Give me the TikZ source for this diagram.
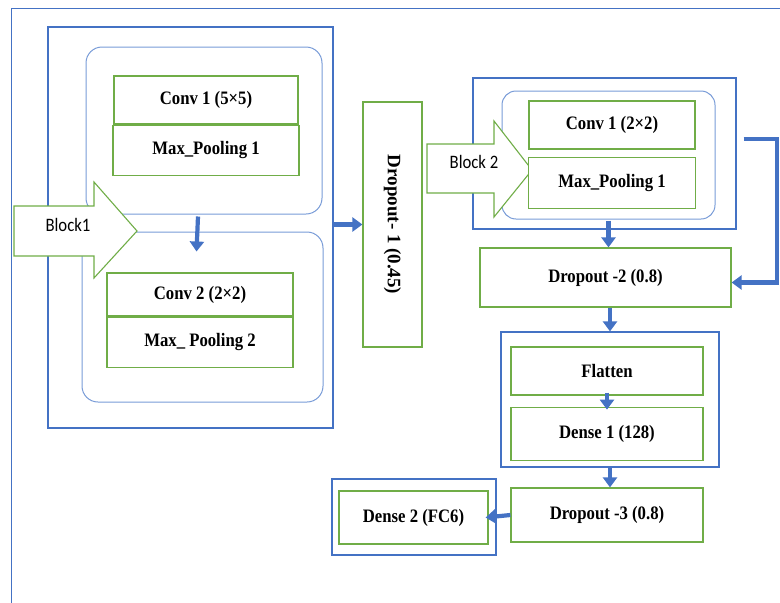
\documentclass[tikz,border=0pt]{standalone}
\usepackage{fontspec}
\setmainfont{Liberation Serif}
\newfontfamily\cellfont{Liberation Serif}[FakeStretch=0.88]
\newfontfamily\blockfont{Carlito}[FakeStretch=0.88]
\usepackage{tikz}
\usetikzlibrary{positioning,arrows.meta}
\definecolor{frameblue}{RGB}{68,114,196}
\definecolor{groupblue}{RGB}{120,155,215}
\definecolor{cellgreen}{RGB}{112,173,71}
\tikzset{
  frame/.style={rectangle,draw=frameblue,line width=1.2pt,inner sep=0pt},
  group/.style={rectangle,rounded corners=16pt,draw=groupblue,line width=1pt,inner sep=0pt},
  cell/.style={rectangle,draw=cellgreen,line width=1.2pt,fill=white,inner sep=0pt,align=center,
    font=\cellfont\bfseries\fontsize{19}{22}\selectfont},
  blockarrow/.style={draw=cellgreen,line width=1.1pt,fill=white,line join=miter},
  blocklabel/.style={inner sep=0pt,font=\blockfont\fontsize{19}{22}\selectfont},
  flowarrow/.style={-{Triangle[length=10pt,width=14pt]},draw=frameblue,line width=4.2pt}
}

\begin{document}
\begin{tikzpicture}[x=1pt,y=-1pt]
  \useasboundingbox (0,0) rectangle (780,603);
  \node[frame,anchor=north west,minimum width=820pt,minimum height=640pt] (outer) at (11,8) {};
  % block 1
  \node[frame,minimum width=285pt,minimum height=401pt] (b1) at (190.5,227.5) {};
  \node[group,minimum width=236pt,minimum height=167pt] (g1a) at (204,130.5) {};
  \node[group,minimum width=241pt,minimum height=170pt] (g1b) at (202.5,317) {};
  \draw[blockarrow] (14,206) -- (94,206) -- (94,182) -- (137,231) -- (94,278) -- (94,256) -- (14,256) -- cycle;
  \node[blocklabel] (blk1) at (68,225) {Block1};
  \node[cell,minimum width=184pt,minimum height=48pt] (c1) at (206,100) {Conv 1 (5×5)};
  \node[cell,minimum width=186pt,minimum height=50pt,below=0pt of c1] (mp1) {Max\_Pooling 1};
  \node[cell,minimum width=186pt,minimum height=43pt] (c2) at (200,294.5) {Conv 2 (2×2)};
  \node[cell,minimum width=186pt,minimum height=50pt,below=0pt of c2] (mp2) {Max\_ Pooling 2};
  % dropout 1
  \node[cell,font=\bfseries\fontsize{19}{22}\selectfont,rotate=-90,minimum width=245pt,minimum height=59pt] (d1) at (392.5,224.5) {Dropout- 1 (0.45)};
  % block 2
  \node[frame,minimum width=263pt,minimum height=151pt] (b2) at (604.5,153.5) {};
  \node[group,rounded corners=14pt,minimum width=213pt,minimum height=128pt] (g2) at (608.5,155) {};
  \draw[blockarrow] (427,144) -- (494,144) -- (494,121) -- (532,170) -- (494,217) -- (494,193) -- (427,193) -- cycle;
  \node[blocklabel] (blk2) at (474,162) {Block 2};
  \node[cell,minimum width=166pt,minimum height=48pt] (c3) at (612,125) {Conv 1 (2×2)};
  \node[cell,minimum width=167pt,minimum height=51pt,below=7pt of c3] (mp3) {Max\_Pooling 1};
  \node[cell,minimum width=251pt,minimum height=59pt] (d2) at (605.5,277.5) {Dropout -2 (0.8)};
  % dense part
  \node[frame,minimum width=218pt,minimum height=135pt] (df) at (610,399.5) {};
  \node[cell,minimum width=192pt,minimum height=48pt] (fl) at (607,371) {Flatten};
  \node[cell,minimum width=192pt,minimum height=53pt,below=11pt of fl] (de1) {Dense 1 (128)};
  \node[cell,minimum width=192pt,minimum height=54pt] (d3) at (607,515) {Dropout -3 (0.8)};
  \node[frame,minimum width=164pt,minimum height=76pt] (den2f) at (414,517) {};
  \node[cell,minimum width=149pt,minimum height=53pt] (den2) at (413.5,517.5) {Dense 2 (FC6)};
  % connectors
  \draw[flowarrow] ([shift={(-6pt,-2pt)}]g1a.south) -- ([shift={(-6pt,-20pt)}]g1b.north);
  \draw[flowarrow] (b1.east |- d1.south) -- (d1.south);
  \draw[flowarrow] ([yshift=-1pt]g2.south) -- (d2.north -| g2.south);
  \draw[flowarrow] ([shift={(7pt,14.5pt)}]b2.east) -- ++(33,0) |- ([yshift=-5pt]d2.east);
  \draw[flowarrow] (df.north |- d2.south) -- (df.north);
  \draw[flowarrow] ([yshift=3pt]fl.south) -- ([yshift=-3pt]de1.north);
  \draw[flowarrow] (df.south) -- (d3.north -| df.south);
  \draw[flowarrow] (d3.west) -- ([xshift=-3pt]den2.east);
\end{tikzpicture}
\end{document}
